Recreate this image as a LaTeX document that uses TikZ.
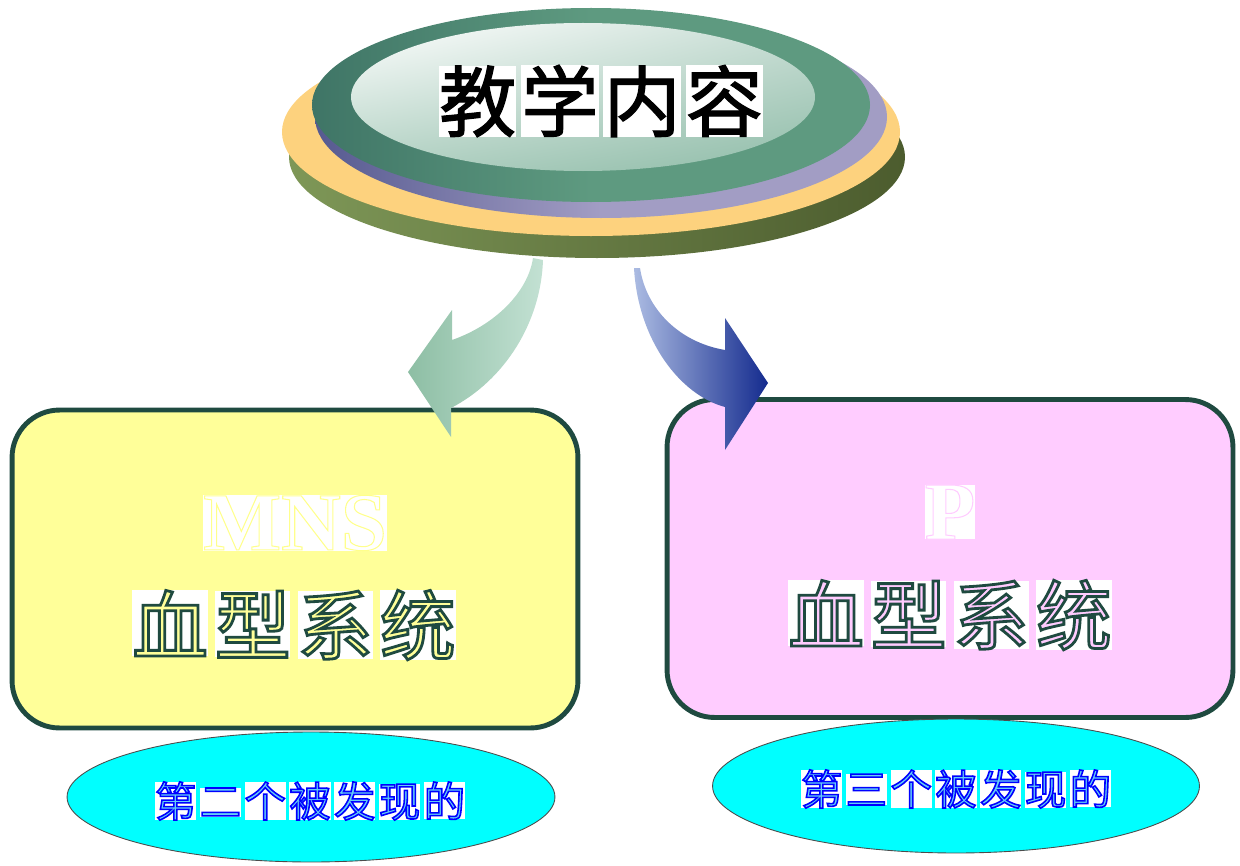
\documentclass[tikz,border=0pt]{standalone}
\usepackage{fontspec}
\setmainfont{Liberation Serif}
\newfontfamily\cjk{Noto Sans CJK SC}
\newfontfamily\cjkb[FakeBold=1.5]{Noto Sans CJK SC}
\usetikzlibrary{shapes.geometric,shadings}
\definecolor{olivel}{HTML}{7E9757}
\definecolor{olived}{HTML}{4C5C2E}
\definecolor{ringy}{HTML}{FDD27E}
\definecolor{ringp}{HTML}{A29DC4}
\definecolor{ringpd}{HTML}{565A90}
\definecolor{ringg}{HTML}{5E9A80}
\definecolor{ringgd}{HTML}{3F7566}
\definecolor{innerbr}{HTML}{8FBCA8}
\definecolor{innertr}{HTML}{C9DED5}
\definecolor{innerbl}{HTML}{B2D1C3}
\definecolor{garrL}{HTML}{8DBEA4}
\definecolor{garrR}{HTML}{C3E1D3}
\definecolor{barrL}{HTML}{ABBBE2}
\definecolor{barrR}{HTML}{142B8E}
\definecolor{boxline}{HTML}{1F4A40}
\definecolor{boxy}{HTML}{FFFF99}
\definecolor{boxp}{HTML}{FFCCFF}
\definecolor{cyanfill}{HTML}{00FFFF}
\setlength\fboxsep{0pt}
\newcommand\wbx[1]{\colorbox{white}{#1}}
% outlined glyphs: #1 fill colour, #2 stroke rgb, #3 width, #4 text
\newcommand\olt[4]{{\color{#1}\special{pdf:literal #2 RG #3 w 2 Tr}#4\special{pdf:literal 0 Tr}}}
\tikzset{
  roundbox/.style={draw=boxline, line width=2.8pt, rounded corners=0.95cm, minimum width=11.32cm, minimum height=6.36cm, inner sep=0pt},
  oval/.style={ellipse, draw=black!70, line width=0.5pt, fill=cyanfill, inner sep=0pt},
  txt/.style={inner sep=0pt, outer sep=0pt}
}
\begin{document}
\begin{tikzpicture}[x=0.02cm,y=-0.02cm]
\useasboundingbox (0,0) rectangle (1240,865);
% ---- layered top disc ----
\shade[left color=olivel, right color=olived] (597,157) ellipse [x radius=308, y radius=101];
\fill[ringy] (591,132) ellipse [x radius=309, y radius=104];
\shade[left color=ringpd, right color=ringp, middle color=ringp] (601,117) ellipse [x radius=286, y radius=101];
\shade[left color=ringgd, right color=ringg, middle color=ringg] (591,105) ellipse [x radius=279, y radius=97];
\shade[upper left=white, upper right=innertr, lower left=innerbl, lower right=innerbr] (583,97) ellipse [x radius=232, y radius=74];
\node[txt] (top) at (601,101) {\cjkb\fontsize{44}{44}\selectfont \wbx{教}\kern2.8pt\wbx{学}\kern2.8pt\wbx{内}\kern2.8pt\wbx{容}};
% ---- boxes ----
\node[roundbox, fill=boxy] (mnsbox) at (295,569) {};
\node[roundbox, fill=boxp] (pbox) at (950,558.5) {};
% ---- curved arrows ----
\shade[left color=garrL, right color=garrR]
  (543,260) .. controls (541,322) and (505,380) .. (451,408)
  -- (451,437) -- (408,372) -- (452,310) -- (452,340)
  .. controls (495,325) and (528,292) .. (533,258) -- cycle;
\shade[left color=barrL, right color=barrR]
  (634,268) .. controls (638,340) and (680,395) .. (725,407)
  -- (725,450) -- (768,383) -- (725,318) -- (725,350)
  .. controls (678,342) and (646,308) .. (640,268) -- cycle;
% ---- box texts ----
\node[txt] (mns) at (295,523) {\fontsize{47}{47}\selectfont\bfseries \wbx{\olt{white}{1 1 0.55}{0.6}{MNS}}};
\node[txt] (mnsname) at (294,625) {\cjk\fontsize{43}{43}\selectfont
  \wbx{\olt{boxy}{0.12 0.29 0.25}{1.6}{血}}\kern4pt\wbx{\olt{boxy}{0.12 0.29 0.25}{1.6}{型}}\kern4pt\wbx{\olt{boxy}{0.12 0.29 0.25}{1.6}{系}}\kern4pt\wbx{\olt{boxy}{0.12 0.29 0.25}{1.6}{统}}};
\node[txt] (p) at (950,512) {\fontsize{47}{47}\selectfont\bfseries \wbx{\olt{white}{1 0.8 1}{0.6}{P}}};
\node[txt] (pname) at (950,615) {\cjk\fontsize{43}{43}\selectfont
  \wbx{\olt{boxp}{0.12 0.29 0.25}{1.6}{血}}\kern4pt\wbx{\olt{boxp}{0.12 0.29 0.25}{1.6}{型}}\kern4pt\wbx{\olt{boxp}{0.12 0.29 0.25}{1.6}{系}}\kern4pt\wbx{\olt{boxp}{0.12 0.29 0.25}{1.6}{统}}};
% ---- bottom ovals ----
\node[oval, minimum width=9.76cm, minimum height=2.6cm] (o1) at (311,797) {};
\node[oval, minimum width=9.74cm, minimum height=2.68cm] (o2) at (956,786) {};
\node[txt] (t1) at (310,801) {\cjk\fontsize{23.5}{23.5}\selectfont
  \wbx{\olt{cyan!60}{0 0 1}{0.9}{第}}\kern2pt\wbx{\olt{cyan!60}{0 0 1}{0.9}{二}}\kern2pt\wbx{\olt{cyan!60}{0 0 1}{0.9}{个}}\kern2pt\wbx{\olt{cyan!60}{0 0 1}{0.9}{被}}\kern2pt\wbx{\olt{cyan!60}{0 0 1}{0.9}{发}}\kern2pt\wbx{\olt{cyan!60}{0 0 1}{0.9}{现}}\kern2pt\wbx{\olt{cyan!60}{0 0 1}{0.9}{的}}};
\node[txt] (t2) at (956,789) {\cjk\fontsize{23.5}{23.5}\selectfont
  \wbx{\olt{cyan!60}{0 0 1}{0.9}{第}}\kern2pt\wbx{\olt{cyan!60}{0 0 1}{0.9}{三}}\kern2pt\wbx{\olt{cyan!60}{0 0 1}{0.9}{个}}\kern2pt\wbx{\olt{cyan!60}{0 0 1}{0.9}{被}}\kern2pt\wbx{\olt{cyan!60}{0 0 1}{0.9}{发}}\kern2pt\wbx{\olt{cyan!60}{0 0 1}{0.9}{现}}\kern2pt\wbx{\olt{cyan!60}{0 0 1}{0.9}{的}}};
\end{tikzpicture}
\end{document}
